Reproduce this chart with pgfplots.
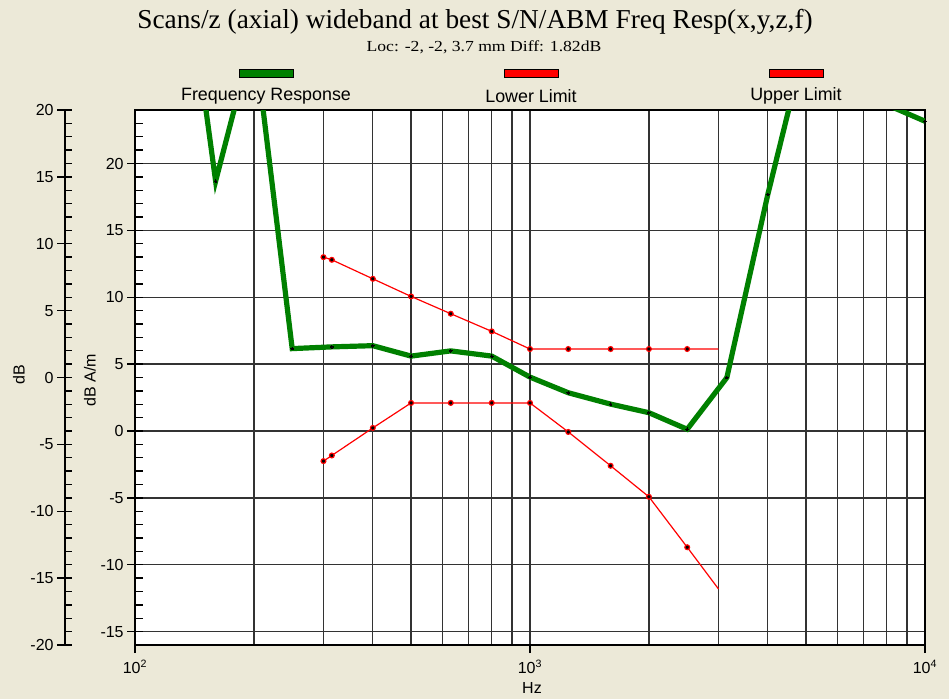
\documentclass[border=0pt]{standalone}
\usepackage{pgfplots}
\pgfplotsset{compat=1.18}
\usepackage{fontspec}
\setmainfont{Liberation Sans}
\newfontfamily\serif{Liberation Serif}
\definecolor{bgbeige}{HTML}{ECE9D8}
\definecolor{frgreen}{HTML}{008000}

\begin{document}
\begin{tikzpicture}
\begin{scope}[x=0.75pt,y=-0.75pt]
\fill[bgbeige] (0,0) rectangle (949,699);
% title lines
\node[font=\serif\fontsize{20.5}{24}\selectfont] at (475,22) {Scans/z (axial) wideband at best S/N/ABM Freq Resp(x,y,z,f)};
\node[font=\serif\fontsize{11.5}{13}\selectfont] at (484,47) {\scalebox{1.15}[1]{Loc: -2, -2, 3.7 mm Diff: 1.82dB}};
% legend, swatch above text
\foreach \cx/\col/\txt in {266/frgreen/Frequency Response, 531/red/Lower Limit, 796/red/Upper Limit} {
  \filldraw[fill=\col, draw=black, line width=0.75pt] (\cx-27,70) rectangle (\cx+27,78);
  \node[font=\fontsize{13.4}{15}\selectfont] at (\cx,96) {\txt};
}
% axis titles
\node[rotate=90, font=\fontsize{12}{14}\selectfont] at (19,375) {dB};
\node[rotate=90, font=\fontsize{12}{14}\selectfont] at (90,380) {dB A/m};
\node[font=\fontsize{12}{14}\selectfont] at (532,688) {Hz};
\end{scope}

% outer dB scale
\begin{axis}[
  at={(48.75pt,-483.75pt)}, anchor=south west,
  scale only axis, width=1pt, height=401.25pt,
  xmin=0, xmax=1, ymin=-20, ymax=20,
  axis y line=left, axis x line=none,
  axis line style={-, black, line width=0.9pt},
  ytick={-20,-15,...,20}, minor ytick={-19,...,19},
  tick align=inside, major tick length=11.25pt, minor tick length=5.25pt,
  major tick style={xshift=-6pt, black, line width=1pt},
  minor tick style={black, line width=1pt},
  yticklabel style={font=\fontsize{12}{14}\selectfont, xshift=-5pt},
  /pgf/number format/assume math mode=true,
]
\end{axis}

% main plot, dB A/m
\begin{axis}[
  at={(101.25pt,-483.75pt)}, anchor=south west,
  scale only axis, width=592.5pt, height=401.25pt,
  xmode=log, log basis x=10,
  xmin=100, xmax=10000, ymin=-16, ymax=24,
  axis background/.style={fill=white},
  axis line style={black, line width=0.9pt},
  xtick={100,1000,10000},
  xticklabels={10\textsuperscript{2},10\textsuperscript{3},10\textsuperscript{4}},
  minor xtick={200,300,400,500,600,700,800,900,2000,3000,4000,5000,6000,7000,8000,9000},
  ytick={-15,-10,...,20},
  tick pos=left, major tick length=0pt, minor tick length=0pt,
  xmajorgrids, xminorgrids, ymajorgrids,
  major grid style={black!80, line width=0.95pt},
  minor grid style={black!80, line width=0.95pt},
  ticklabel style={font=\fontsize{12}{14}\selectfont},
  yticklabel style={xshift=-5pt},
  xticklabel style={yshift=-8pt},
  /pgf/number format/assume math mode=true,
]
% upper limit
\addplot[red, line width=0.9pt, mark=*, mark size=1.8pt,
  mark options={fill=black, draw=red, line width=0.9pt},
  mark indices={1,2,3,4,5,6,7,8,9,10,11}] coordinates {
  (300,13.0) (315,12.8) (400,11.38) (500,10.06) (630,8.77) (800,7.45)
  (1000,6.13) (1250,6.13) (1600,6.13) (2000,6.13) (2500,6.13) (3000,6.13)
};
% lower limit
\addplot[red, line width=0.9pt, mark=*, mark size=1.8pt,
  mark options={fill=black, draw=red, line width=0.9pt},
  mark indices={1,2,3,4,5,6,7,8,9,10,11}] coordinates {
  (300,-2.25) (315,-1.83) (400,0.23) (500,2.1) (630,2.1) (800,2.1)
  (1000,2.1) (1250,-0.07) (1600,-2.6) (2000,-4.92) (2500,-8.69) (3000,-11.81)
};
% frequency response
\addplot[frgreen, line width=3.9pt, mark=*, mark size=1pt,
  mark options={fill=black, draw=black, line width=0pt}] coordinates {
  (125,42) (160,18.68) (200,29.7) (250,6.16) (315,6.29) (400,6.38)
  (500,5.6) (630,5.99) (800,5.6) (1000,4.03) (1250,2.86) (1600,2.01)
  (2000,1.37) (2500,0.13) (3150,3.99) (4000,17.69) (5000,29.3)
  (6300,27) (8000,24.4) (10000,23.16)
};
\end{axis}

% tick marks of the main plot
\begin{axis}[
  at={(101.25pt,-483.75pt)}, anchor=south west,
  scale only axis, width=592.5pt, height=401.25pt,
  xmode=log, xmin=100, xmax=10000, ymin=-16, ymax=24,
  axis y line=left, axis x line=bottom,
  axis line style={-, black, line width=0.9pt},
  xtick={100,1000,10000}, xticklabels={}, xminorticks=false,
  ytick={-15,-10,...,20}, minor ytick={-16,...,24}, yticklabels={},
  tick align=inside, major tick length=6pt, minor tick length=6pt,
  major y tick style={xshift=-6pt, black, line width=1.1pt},
  major x tick style={yshift=-6pt, black, line width=1.1pt},
  minor tick style={black, line width=1.1pt},
]
\end{axis}
\end{tikzpicture}
\end{document}
